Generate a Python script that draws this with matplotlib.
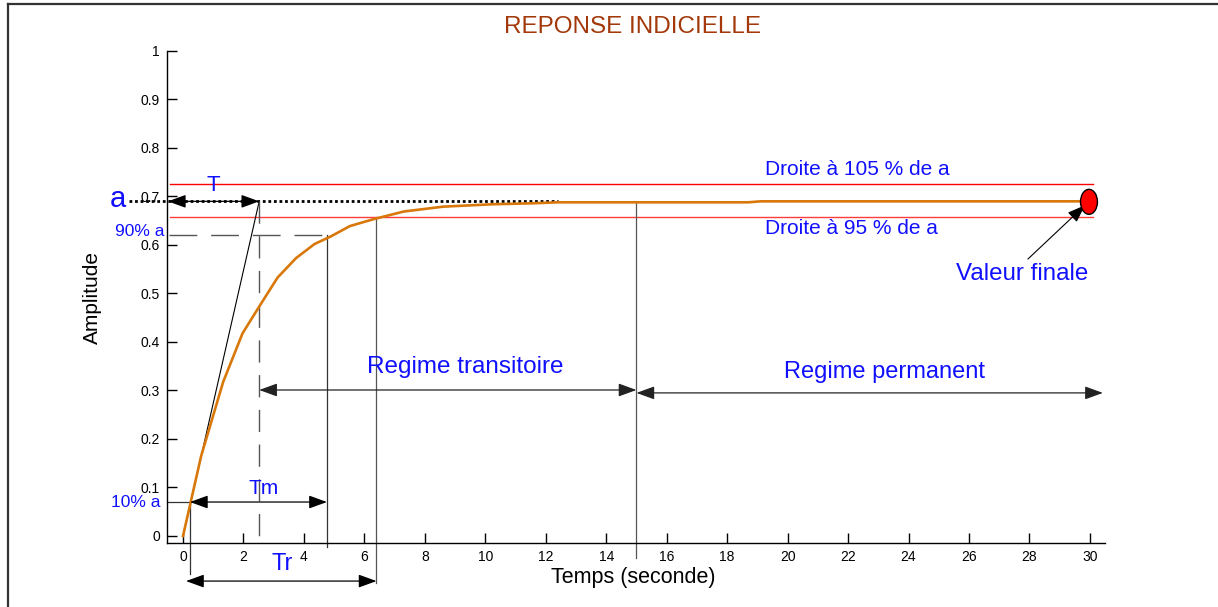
import matplotlib.pyplot as plt
import numpy as np
from matplotlib.patches import Ellipse
from matplotlib.lines import Line2D

plt.rcParams['font.family'] = ['Liberation Sans', 'DejaVu Sans']

# step response
temps = [0, 0.6, 1.33, 1.97, 2.55, 3.13, 3.74, 4.35, 4.9, 5.52, 6.29,
         7.3, 8.6, 10.25, 11.6, 12.4, 18.7, 19.1, 29.8]
amplitude = [0, 0.165, 0.318, 0.418, 0.476, 0.533, 0.573, 0.602, 0.618, 0.639,
             0.653, 0.669, 0.679, 0.684, 0.686, 0.688, 0.688, 0.690, 0.690]

a = 0.69
T = 2.52
y_105 = 0.726
y_95 = 0.658
y_90 = 0.62
y_10 = 0.07
t_10 = 0.23
t_90 = 4.76
t_95 = 6.4
t_regime = 15.0
t_final = 29.97
x_ticks = list(range(0, 31, 2))
y_ticks = [0, 0.1, 0.2, 0.3, 0.4, 0.5, 0.6, 0.7, 0.8, 0.9, 1]

blue = '#1010ff'
grey = '#555555'

fig = plt.figure(figsize=(12.18, 6.07), dpi=100)
ax = fig.add_axes([167 / 1218, 64 / 607, 938 / 1218, 492 / 607])
ax.set_xlim(-0.53, 30.5)
ax.set_ylim(-0.0145, 1.0)
for s in ['top', 'right']:
    ax.spines[s].set_visible(False)
for s in ['left', 'bottom']:
    ax.spines[s].set_linewidth(1.0)
ax.set_xticks(x_ticks)
ax.set_yticks(y_ticks)
ax.set_yticklabels(['0', '0.1', '0.2', '0.3', '0.4', '0.5', '0.6', '0.7', '0.8', '0.9', '1'])
ax.tick_params(direction='in', length=7, width=1, labelsize=10, pad=5)

# figure frame (only top and left are inside the picture)
fig.add_artist(Line2D([8 / 1218, 8 / 1218], [0, 1 - 4 / 607], color='#333333', lw=1.6,
                      transform=fig.transFigure))
fig.add_artist(Line2D([8 / 1218, 1], [1 - 4 / 607, 1 - 4 / 607], color='#333333', lw=1.6,
                      transform=fig.transFigure))

fig.text(633 / 1218, 1 - 27 / 607, 'REPONSE INDICIELLE', color='#a3390b', fontsize=17.5,
         ha='center', va='center')
fig.text(92 / 1218, 1 - 297 / 607, 'Amplitude', fontsize=15, rotation=90, ha='center', va='center')
fig.text(633 / 1218, 1 - 578 / 607, 'Temps (seconde)', fontsize=15.5, ha='center', va='center')

# tolerance band
ax.plot([-0.43, 30.1], [y_105, y_105], color='red', lw=1)
ax.plot([-0.43, 30.1], [y_95, y_95], color='#ff3c3c', lw=1)

# final value level and tangent
ax.plot([-1.8, 12.4], [a, a], color='black', lw=2, linestyle=(0, (1, 1)), clip_on=False)
ax.plot([0, T], [0, a], color='black', lw=0.8)

# construction lines
ax.plot([T, T], [a, -0.025], color=grey, lw=1, dashes=(16, 9), clip_on=False)
ax.plot([-0.45, t_90], [y_90, y_90], color=grey, lw=1, dashes=(20, 10))
ax.plot([t_90, t_90], [y_90, -0.023], color='#333333', lw=0.9, clip_on=False)
ax.plot([t_95, t_95], [y_95, -0.097], color=grey, lw=0.9, clip_on=False)
ax.plot([t_10, t_10], [y_10, -0.078], color='#333333', lw=0.9, clip_on=False)
ax.plot([t_regime, t_regime], [0.688, -0.045], color=grey, lw=0.9, clip_on=False)
ax.plot([-0.53, t_10], [y_10, y_10], color='#333333', lw=0.9)

# response
ax.plot(temps, amplitude, color='#d9780a', lw=1.9)
ax.add_patch(Ellipse((t_final, 0.689), 0.56, 0.0515, facecolor='red', edgecolor='black', lw=1, zorder=5))


def double_arrow(x0, x1, y, shaft='black'):
    ax.annotate('', xy=(x1, y), xytext=(x0, y), annotation_clip=False,
                arrowprops=dict(arrowstyle='<|-|>,head_length=0.55,head_width=0.2',
                                mutation_scale=20, color=shaft, lw=0.9,
                                shrinkA=0, shrinkB=0))


double_arrow(-0.5, T, a)
double_arrow(t_10, t_90, y_10)
double_arrow(0.1, t_95, -0.093)
double_arrow(T, t_regime, 0.301, '#222222')
double_arrow(t_regime, 30.43, 0.295, '#222222')

ax.annotate('', xy=(29.84, 0.682), xytext=(27.95, 0.571),
            arrowprops=dict(arrowstyle='-|>,head_length=0.55,head_width=0.2', mutation_scale=20,
                            color='black', lw=0.8, shrinkA=0, shrinkB=0))

# labels
ax.text(-2.15, 0.695, 'a', color=blue, fontsize=21, ha='center', va='center')
ax.text(0.99, 0.722, 'T', color=blue, fontsize=16, ha='center', va='center')
ax.text(-0.6, 0.627, '90% a', color=blue, fontsize=12.5, ha='right', va='center')
ax.text(-0.76, 0.068, '10% a', color=blue, fontsize=12.5, ha='right', va='center')
ax.text(2.65, 0.097, 'Tm', color=blue, fontsize=15, ha='center', va='center')
ax.text(3.27, -0.058, 'Tr', color=blue, fontsize=17, ha='center', va='center')
ax.text(9.33, 0.348, 'Regime transitoire', color=blue, fontsize=17.5, ha='center', va='center')
ax.text(23.19, 0.338, 'Regime permanent', color=blue, fontsize=17, ha='center', va='center')
ax.text(22.3, 0.755, 'Droite à 105 % de a', color=blue, fontsize=15, ha='center', va='center')
ax.text(22.1, 0.635, 'Droite à 95 % de a', color=blue, fontsize=15, ha='center', va='center')
ax.text(27.75, 0.54, 'Valeur finale', color=blue, fontsize=17.4, ha='center', va='center')

fig.savefig('out.png', dpi=100)
